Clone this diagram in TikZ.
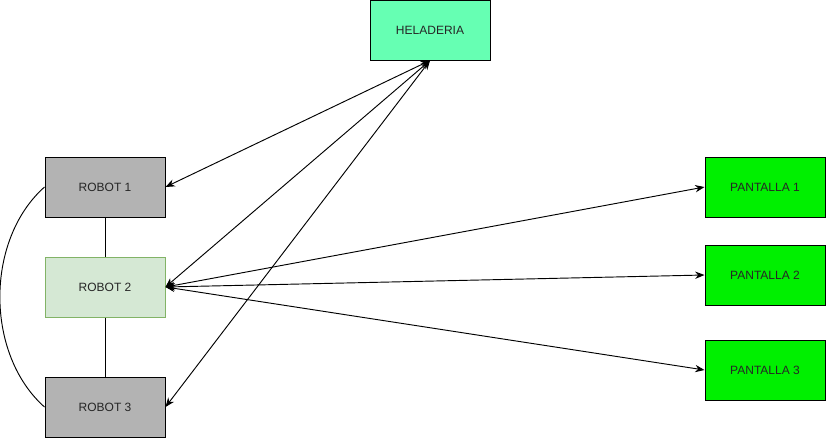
\documentclass[tikz,border=0pt]{standalone}
\usepackage{fontspec}
\setmainfont{Liberation Sans}
\usepackage{xcolor}
\usepackage{tikz}
\usetikzlibrary{arrows.meta, positioning, calc}

\definecolor{heladeriaFill}{RGB}{102,255,179}
\definecolor{robotGrey}{RGB}{179,179,179}
\definecolor{robotGreen}{RGB}{213,232,212}
\definecolor{robotGreenLine}{RGB}{130,179,102}
\definecolor{pantallaFill}{RGB}{0,240,0}

\tikzset{
  box/.style={draw=black, line width=0.75pt, minimum width=90pt, minimum height=45pt,
    inner sep=0pt, font=\fontsize{9}{11}\selectfont, text=black!85},
  link/.style={line width=0.7pt, {Stealth[length=7pt,width=5.5pt]}-{Stealth[length=7pt,width=5.5pt]}},
  plain/.style={line width=0.7pt}
}

\begin{document}
\begin{tikzpicture}[x=0.75pt, y=-0.75pt]
  \useasboundingbox (0,0) rectangle (827,439);
  % boxes
  \node[box, fill=heladeriaFill] (heladeria) at (430,30) {HELADERIA};
  \node[box, fill=robotGrey] (robot1) at (105,187) {ROBOT 1};
  \node[box, fill=robotGreen, draw=robotGreenLine] (robot2) at (105,287) {ROBOT 2};
  \node[box, fill=robotGrey] (robot3) at (105,407) {ROBOT 3};
  \node[box, fill=pantallaFill] (pantalla1) at (765,187) {PANTALLA 1};
  \node[box, fill=pantallaFill] (pantalla2) at (765,275) {PANTALLA 2};
  \node[box, fill=pantallaFill] (pantalla3) at (765,370) {PANTALLA 3};
  % robots
  \draw[plain] (robot1.south) -- (robot2.north);
  \draw[plain] (robot2.south) -- (robot3.north);
  \draw[plain] (robot1.west) .. controls (-15,240) and (-15,354) .. (robot3.west);
  % heladeria links
  \foreach \r in {robot1, robot2, robot3}
    \draw[link] (heladeria.south) -- (\r.east);
  % pantalla links
  \foreach \p in {pantalla1, pantalla2, pantalla3}
    \draw[link] (robot2.east) -- (\p.west);
\end{tikzpicture}
\end{document}
